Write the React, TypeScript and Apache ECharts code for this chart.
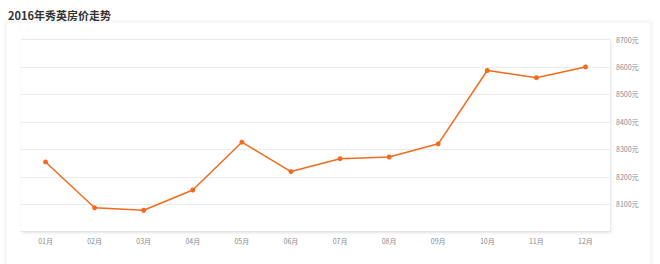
import React, { useEffect, useRef } from "react";
import * as echarts from "echarts";

const title = "2016年秀英房价走势";
const months = ["01月", "02月", "03月", "04月", "05月", "06月", "07月", "08月", "09月", "10月", "11月", "12月"];
const prices = [8254, 8087, 8078, 8152, 8326, 8219, 8266, 8272, 8320, 8587, 8561, 8600];
const yMin = 8000;
const yMax = 8700;
const yStep = 100;
const unit = "元";

export default function App() {
  const ref = useRef<HTMLDivElement>(null);
  useEffect(() => {
    if (!ref.current) return;
    const chart = echarts.init(ref.current, null, { renderer: "svg" });
    chart.setOption({
      animation: false,
      backgroundColor: "#fff",
      title: {
        text: title,
        left: 3,
        top: 4,
        textStyle: {
          fontSize: 11,
          fontWeight: "bold",
          color: "#333",
          fontFamily: "'Noto Sans CJK SC', sans-serif",
        },
      },
      graphic: [
        {
          type: "rect",
          z: -10,
          silent: true,
          shape: { x: 6, y: 22, width: 645, height: 260 },
          style: {
            fill: "#fff",
            stroke: "#f0f0f0",
            lineWidth: 1,
            shadowBlur: 4,
            shadowColor: "rgba(0,0,0,0.06)",
          },
        },
      ],
      grid: {
        left: 21,
        right: 50,
        top: 39.5,
        bottom: 32.3,
        show: true,
        backgroundColor: "#fff",
        borderWidth: 0,
        shadowBlur: 3,
        shadowColor: "rgba(0,0,0,0.12)",
        shadowOffsetX: 1,
        shadowOffsetY: 1,
      },
      xAxis: {
        type: "category",
        data: months,
        boundaryGap: true,
        axisLine: { show: true, lineStyle: { color: "#e4e4e4" } },
        axisTick: { show: false },
        axisLabel: {
          fontSize: 7,
          color: "#888",
          margin: 6,
          fontFamily: "'Noto Sans CJK SC', sans-serif",
        },
      },
      yAxis: {
        type: "value",
        position: "right",
        min: yMin,
        max: yMax,
        interval: yStep,
        axisLine: { show: false },
        axisTick: { show: false },
        splitLine: { lineStyle: { color: "#ebebeb" } },
        axisLabel: {
          fontSize: 7,
          color: "#888",
          margin: 6,
          showMinLabel: false,
          formatter: (v: number) => v + unit,
          fontFamily: "'Noto Sans CJK SC', sans-serif",
        },
      },
      series: [
        {
          type: "line",
          data: prices,
          symbol: "circle",
          symbolSize: 5,
          lineStyle: { color: "#f26b1d", width: 1.5 },
          itemStyle: { color: "#f26b1d" },
        },
      ],
    });
    return () => chart.dispose();
  }, []);
  return (
    <div
      ref={ref}
      style={{ position: "fixed", left: 0, top: 0, width: 660, height: 264 }}
    />
  );
}
